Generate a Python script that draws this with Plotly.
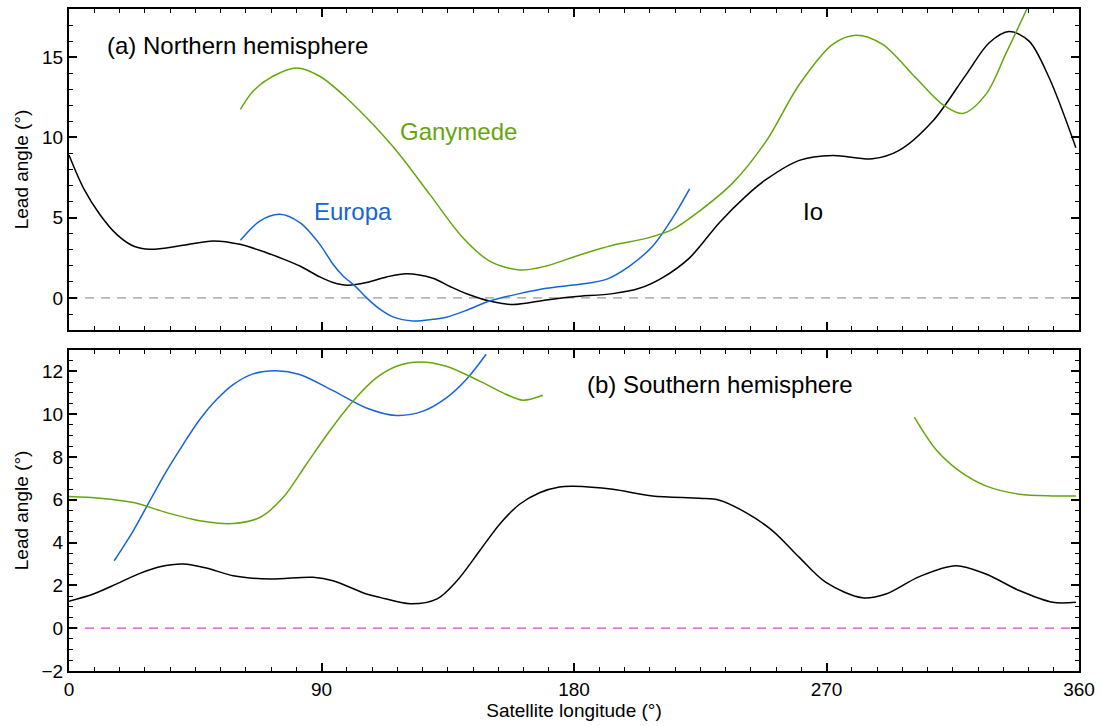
import plotly.graph_objects as go
from plotly.subplots import make_subplots

# ---- Northern hemisphere ----
io_n_x = [0, 5.1, 11, 17, 22.9, 28.8, 40.7, 51.4, 60.9, 70.4, 76, 82.3, 89.4, 94.1, 99.4, 106,
          113.2, 120.3, 129.7, 136, 142, 149.9, 158.2, 170.1, 180, 193.8, 203.3, 211.6, 221.2, 231.8,
          241, 248.5, 260.3, 272.2, 286.4, 295.9, 307.8, 319.7, 328, 335.1, 342.2, 349.4, 358.9]
io_n_y = [8.9, 6.86, 5.2, 3.96, 3.24, 3.03, 3.28, 3.55, 3.34, 2.82, 2.45, 1.99, 1.31, 0.96, 0.79, 0.96,
          1.31, 1.51, 1.23, 0.7, 0.25, -0.19, -0.41, -0.12, 0.08, 0.27, 0.6, 1.27, 2.5, 4.69,
          6.3, 7.38, 8.57, 8.88, 8.67, 9.19, 11.0, 13.9, 15.9, 16.6, 16.0, 13.7, 9.35]

eu_n_x = [61.1, 68, 75.1, 82.3, 89.4, 94.1, 97.7, 101.9, 106, 110.8, 115.5, 122.6, 129.7, 134.5,
          142, 149.9, 160.6, 170.1, 182, 191.5, 199.8, 208.1, 215.2, 221.2]
eu_n_y = [3.59, 4.79, 5.21, 4.69, 3.34, 2.1, 1.37, 0.75, 0.02, -0.7, -1.18, -1.43, -1.33, -1.2,
          -0.75, -0.19, 0.27, 0.6, 0.85, 1.16, 1.99, 3.24, 5.0, 6.8]

ga_n_x = [61.1, 65.6, 72.7, 81.1, 89.4, 98.9, 108.4, 117.5, 128.6, 140.4, 149.9, 160.6, 170.1,
          182, 193.8, 205.7, 215.2, 224.7, 236.6, 248.5, 260.3, 272.2, 280.5, 290, 301.9,
          311.4, 318.5, 326.8, 333.9, 341.6, 344]
ga_n_y = [11.74, 12.88, 13.81, 14.33, 13.81, 12.46, 10.8, 9.0, 6.45, 3.75, 2.3, 1.74, 1.99,
          2.68, 3.28, 3.71, 4.27, 5.41, 7.17, 9.77, 13.3, 15.8, 16.37, 15.8, 13.7,
          12.05, 11.49, 12.68, 15.2, 18.07, 19.0]

# ---- Southern hemisphere ----
io_s_x = [0, 8.7, 17, 25.3, 32.4, 40.7, 49, 58.5, 71.6, 87, 94.1, 106, 110.8, 121.7, 131.2,
          138.3, 146.4, 153.5, 160.6, 167.7, 174.8, 180, 193.8, 208, 224.7, 231.8, 241.3, 250.8,
          260.3, 269.8, 282.8, 291.2, 303.1, 316.1, 326.8, 338.7, 350.6, 358.9]
io_s_y = [1.26, 1.6, 2.07, 2.56, 2.87, 3.0, 2.81, 2.45, 2.3, 2.38, 2.22, 1.6, 1.44, 1.14, 1.37,
          2.22, 3.62, 4.86, 5.79, 6.33, 6.6, 6.63, 6.49, 6.18, 6.07, 5.98, 5.4, 4.55,
          3.31, 2.14, 1.42, 1.6, 2.41, 2.92, 2.53, 1.76, 1.21, 1.21]

eu_s_x = [16.1, 22.9, 28.8, 34.8, 40.7, 46.6, 52.6, 58.5, 65.6, 73.9, 82.2, 94.1, 106,
          116.7, 126.2, 134.5, 141.6, 148.7]
eu_s_y = [3.15, 4.55, 5.95, 7.35, 8.59, 9.75, 10.68, 11.38, 11.88, 12.03, 11.85, 11.1, 10.29,
          9.94, 10.14, 10.76, 11.62, 12.8]

ga_s1_x = [0, 11, 22.9, 34.8, 46.6, 58.5, 68, 76.3, 84.6, 92.9, 101.2, 109.5, 117, 125,
           134.5, 146.4, 155.9, 161.8, 168.9]
ga_s1_y = [6.15, 6.07, 5.87, 5.4, 5.02, 4.89, 5.17, 6.1, 7.66, 9.21, 10.6, 11.69, 12.25, 12.44,
           12.24, 11.54, 10.92, 10.65, 10.88]

ga_s2_x = [301.3, 309, 317.3, 326.8, 338.7, 350.6, 358.9]
ga_s2_y = [9.86, 8.35, 7.35, 6.65, 6.26, 6.18, 6.18]

x_ticks = [0, 90, 180, 270, 360]

BLACK = "#000000"
GREEN = "#66a60c"
BLUE = "#1565d4"
MAGENTA = "#e040c0"
GREY = "#999999"
FONT = "Liberation Sans, Arial, Helvetica, sans-serif"

fig = make_subplots(rows=2, cols=1, shared_xaxes=False, vertical_spacing=0.03)

def line(x, y, color, row, dash=None, width=1.5):
    fig.add_trace(go.Scatter(x=x, y=y, mode="lines", line=dict(color=color, width=width, dash=dash,
                             shape="spline", smoothing=0.9), showlegend=False, hoverinfo="skip"),
                  row=row, col=1)

line([0, 360], [0, 0], GREY, 1, dash="9px,7px", width=1.2)
line(io_n_x, io_n_y, BLACK, 1)
line(eu_n_x, eu_n_y, BLUE, 1)
line(ga_n_x, ga_n_y, GREEN, 1)

line([0, 360], [0, 0], MAGENTA, 2, dash="9px,7px", width=1.2)
line(io_s_x, io_s_y, BLACK, 2)
line(eu_s_x, eu_s_y, BLUE, 2)
line(ga_s1_x, ga_s1_y, GREEN, 2)
line(ga_s2_x, ga_s2_y, GREEN, 2)

axis_common = dict(showline=True, linecolor="black", linewidth=2, mirror="allticks",
                   ticks="inside", tickcolor="black", tickwidth=1.5, showgrid=False,
                   zeroline=False, tickfont=dict(family=FONT, size=19, color="black"))

fig.update_xaxes(range=[0, 360], tickvals=x_ticks, ticklen=8,
                 minor=dict(dtick=9, tick0=0, ticklen=4, ticks="inside", tickcolor="black", tickwidth=1.2),
                 **axis_common)
fig.update_xaxes(showticklabels=False, row=1, col=1)
fig.update_xaxes(title=dict(text="Satellite longitude (°)", font=dict(family=FONT, size=19, color="black"),
                            standoff=4), row=2, col=1)

fig.update_yaxes(range=[-2, 18], tickvals=[0, 5, 10, 15], ticklen=8,
                 minor=dict(dtick=1, tick0=0, ticklen=4, ticks="inside", tickcolor="black", tickwidth=1.2),
                 title=dict(text="Lead angle (°)", font=dict(family=FONT, size=19, color="black"), standoff=8),
                 row=1, col=1, **axis_common)
fig.update_yaxes(range=[-2, 13], tickvals=[-2, 0, 2, 4, 6, 8, 10, 12], ticklen=8,
                 minor=dict(dtick=0.5, tick0=0, ticklen=4, ticks="inside", tickcolor="black", tickwidth=1.2),
                 title=dict(text="Lead angle (°)", font=dict(family=FONT, size=19, color="black"), standoff=8),
                 row=2, col=1, **axis_common)

fig.update_layout(
    width=1102, height=726,
    margin=dict(l=69, r=22, t=7, b=55),
    plot_bgcolor="white", paper_bgcolor="white",
    font=dict(family=FONT, color="black"),
)
fig.layout.yaxis.domain = [0.515, 1.0]
fig.layout.yaxis2.domain = [0.0, 0.485]

def label(text, x, y, color, xref="x", yref="y"):
    fig.add_annotation(text=text, x=x, y=y, xref=xref, yref=yref, showarrow=False,
                       xanchor="left", yanchor="middle",
                       font=dict(family=FONT, size=24, color=color))

label("(a) Northern hemisphere", 12.8, 15.7, BLACK)
label("Ganymede", 117.2, 10.4, GREEN)
label("Europa", 86.5, 5.4, BLUE)
label("Io", 261, 5.4, BLACK)
label("(b) Southern hemisphere", 183.8, 11.4, BLACK, xref="x2", yref="y2")

fig.write_html("out.html")
